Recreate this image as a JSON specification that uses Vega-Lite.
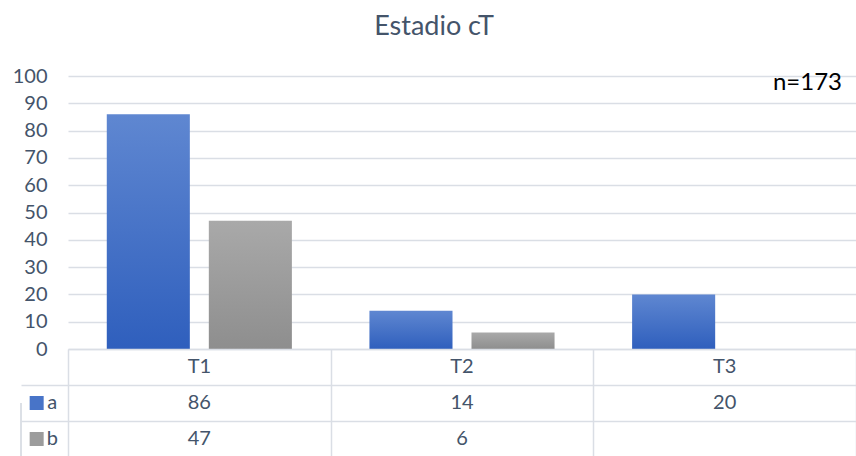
{
  "$schema": "https://vega.github.io/schema/vega-lite/v6.json",
  "background": "white",
  "padding": {"left": 12, "top": 13, "right": 0, "bottom": 0},
  "title": {"text": "Estadio cT", "fontSize": 27, "font": "Lato", "fontWeight": "normal", "color": "#44546a", "anchor": "middle", "offset": 25},
  "config": {"view": {"stroke": null}, "font": "Lato"},
  "datasets": {
    "stages": [
      {"stage": "T1", "series": "a", "value": 86},
      {"stage": "T1", "series": "b", "value": 47},
      {"stage": "T2", "series": "a", "value": 14},
      {"stage": "T2", "series": "b", "value": 6},
      {"stage": "T3", "series": "a", "value": 20}
    ],
    "note": [{"label": "n=173"}]
  },
  "data": {"name": "stages"},
  "columns": 2,
  "spacing": 0,
  "bounds": "flush",
  "concat": [
    {
      "width": 47,
      "height": 273,
      "data": {"values": []},
      "mark": {"type": "text"},
      "encoding": {}
    },
    {
      "width": 788,
      "height": 273,
      "layer": [
        {
          "transform": [{"filter": "datum.series == 'a'"}],
          "mark": {"type": "bar", "color": {"gradient": "linear", "x1": 0, "y1": 0, "x2": 0, "y2": 1, "stops": [{"offset": 0, "color": "#5f87d1"}, {"offset": 1, "color": "#2f5fbd"}]}},
          "encoding": {
            "x": {"field": "stage", "type": "nominal", "scale": {"domain": ["T1", "T2", "T3"], "paddingInner": 0, "paddingOuter": 0}, "axis": null},
            "xOffset": {"field": "series", "type": "nominal", "scale": {"domain": ["a", "b"], "paddingInner": 0.186, "paddingOuter": 0.38}},
            "y": {"field": "value", "type": "quantitative", "scale": {"domain": [0, 100]}, "axis": {"values": [0, 10, 20, 30, 40, 50, 60, 70, 80, 90, 100], "labelOverlap": false, "title": null, "domain": false, "ticks": false, "labelFontSize": 20, "labelColor": "#44546a", "labelPadding": 21, "gridColor": "#dadee5", "gridWidth": 1.5}}
          }
        },
        {
          "transform": [{"filter": "datum.series == 'b'"}],
          "mark": {"type": "bar", "color": {"gradient": "linear", "x1": 0, "y1": 0, "x2": 0, "y2": 1, "stops": [{"offset": 0, "color": "#a9a9a9"}, {"offset": 1, "color": "#8e8e8e"}]}},
          "encoding": {
            "x": {"field": "stage", "type": "nominal"},
            "xOffset": {"field": "series", "type": "nominal"},
            "y": {"field": "value", "type": "quantitative", "axis": {"values": [0, 10, 20, 30, 40, 50, 60, 70, 80, 90, 100], "labelOverlap": false, "title": null, "domain": false, "ticks": false, "labelFontSize": 20, "labelColor": "#44546a", "labelPadding": 21, "gridColor": "#dadee5", "gridWidth": 1.5}}
          }
        },
        {
          "data": {"name": "note"},
          "mark": {"type": "text", "x": "width", "dx": -14, "align": "right", "baseline": "middle", "fontSize": 24, "color": "#000000"},
          "encoding": {
            "y": {"datum": 97.5, "type": "quantitative", "axis": {"values": [0, 10, 20, 30, 40, 50, 60, 70, 80, 90, 100], "labelOverlap": false, "title": null, "domain": false, "ticks": false, "labelFontSize": 20, "labelColor": "#44546a", "labelPadding": 21, "gridColor": "#dadee5", "gridWidth": 1.5}},
            "text": {"field": "label"}
          }
        }
      ]
    },
    {
      "width": 47,
      "height": 108,
      "transform": [{"filter": "datum.stage == 'T1'"}],
      "layer": [
        {
          "mark": {"type": "square", "size": 196, "opacity": 1, "filled": true},
          "encoding": {
            "x": {"datum": "swatch", "type": "nominal", "scale": {"type": "point", "domain": ["edge", "swatch", "label", "end"], "padding": 0}, "axis": null},
            "y": {"field": "series", "type": "nominal", "scale": {"domain": ["cat", "a", "b"], "paddingInner": 0, "paddingOuter": 0}, "axis": {"values": ["a", "b"], "tickBand": "extent", "grid": true, "gridColor": "#dadee5", "gridWidth": 1.5, "labels": false, "ticks": false, "domain": false, "title": null}},
            "color": {"field": "series", "type": "nominal", "scale": {"domain": ["a", "b"], "range": ["#4874c8", "#9c9c9c"]}, "legend": null}
          }
        },
        {
          "mark": {"type": "text", "fontSize": 20, "color": "#44546a", "align": "center", "baseline": "middle"},
          "encoding": {
            "x": {"datum": "label", "type": "nominal"},
            "y": {"field": "series", "type": "nominal"},
            "text": {"field": "series"}
          }
        },
        {
          "mark": {"type": "rule", "color": "#dadee5", "strokeWidth": 1.5},
          "encoding": {
            "x": {"datum": "edge", "type": "nominal"},
            "y": {"datum": "b", "type": "nominal", "bandPosition": 1},
            "y2": {"datum": "a"}
          }
        }
      ]
    },
    {
      "width": 788,
      "height": 108,
      "layer": [
        {
          "transform": [{"filter": "datum.series == 'a'"}],
          "mark": {"type": "text", "fontSize": 20, "color": "#44546a", "align": "center", "baseline": "middle"},
          "encoding": {
            "x": {"field": "stage", "type": "nominal", "scale": {"domain": ["T1", "T2", "T3"], "paddingInner": 0, "paddingOuter": 0}, "axis": {"values": ["T1", "T2", "T3"], "tickBand": "extent", "grid": true, "gridColor": "#dadee5", "gridWidth": 1.5, "labels": false, "ticks": false, "domain": false, "title": null}},
            "y": {"datum": "cat", "type": "nominal", "scale": {"domain": ["cat", "a", "b"], "paddingInner": 0, "paddingOuter": 0}, "axis": {"values": ["cat", "a", "b"], "tickBand": "extent", "grid": true, "gridColor": "#dadee5", "gridWidth": 1.5, "labels": false, "ticks": false, "domain": false, "title": null}},
            "text": {"field": "stage"}
          }
        },
        {
          "mark": {"type": "text", "fontSize": 20, "color": "#44546a", "align": "center", "baseline": "middle"},
          "encoding": {
            "x": {"field": "stage", "type": "nominal"},
            "y": {"field": "series", "type": "nominal"},
            "text": {"field": "value", "type": "quantitative"}
          }
        }
      ]
    }
  ]
}
